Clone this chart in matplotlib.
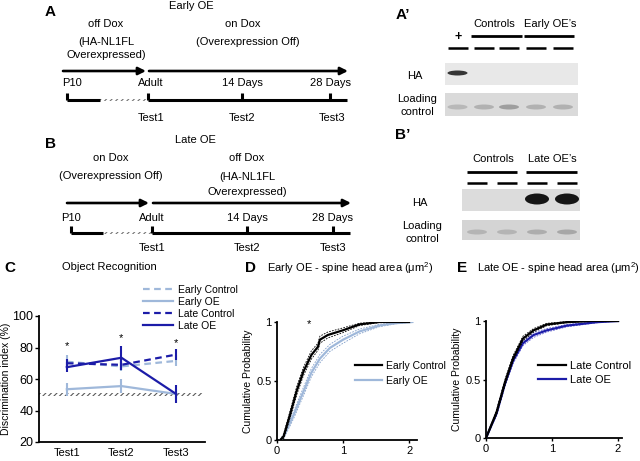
import matplotlib
matplotlib.use('Agg')
import matplotlib.pyplot as plt
from matplotlib.patches import Rectangle, Ellipse
from matplotlib.lines import Line2D
import numpy as np

plt.rcParams['font.family'] = ['Liberation Sans', 'DejaVu Sans']
plt.rcParams['mathtext.fontset'] = 'custom'
plt.rcParams['mathtext.rm'] = 'Liberation Sans'
plt.rcParams['hatch.linewidth'] = 0.8

# ---------------- data ----------------
tests = ['Test1', 'Test2', 'Test3']
early_ctrl = [71, 68, 71.5]
early_ctrl_err = [4, 3, 3.5]
early_oe = [53.5, 55.5, 50.5]
early_oe_err = [4, 4.5, 3]
late_ctrl = [70, 69, 75.5]
late_ctrl_err = [3, 3, 3.5]
late_oe = [67.5, 73.5, 50.5]
late_oe_err = [3, 7.5, 6]
star_y = [81, 86, 83]
chance = 50

early_ctrl_x = [0.05, 0.1, 0.2, 0.3, 0.4, 0.52, 0.62, 0.65, 0.77, 1.0, 1.25, 1.55, 2.0]
early_ctrl_p = [0.0, 0.03, 0.22, 0.42, 0.58, 0.72, 0.79, 0.85, 0.89, 0.93, 0.98, 1.0, 1.0]
early_ctrl_sem = [0.0, 0.02, 0.03, 0.035, 0.035, 0.035, 0.03, 0.03, 0.025, 0.02, 0.01, 0.005, 0.0]
early_oe_x = [0.05, 0.1, 0.25, 0.4, 0.52, 0.65, 0.8, 1.0, 1.25, 1.55, 1.8, 2.05]
early_oe_p = [0.0, 0.03, 0.21, 0.41, 0.57, 0.69, 0.78, 0.85, 0.92, 0.97, 0.99, 1.0]
early_oe_sem = [0.0, 0.02, 0.03, 0.035, 0.035, 0.035, 0.03, 0.03, 0.02, 0.01, 0.005, 0.0]

late_ctrl_x = [0.0, 0.16, 0.29, 0.41, 0.56, 0.72, 0.92, 1.22, 1.6, 2.0]
late_ctrl_p = [0.0, 0.22, 0.48, 0.68, 0.85, 0.92, 0.97, 0.99, 1.0, 1.0]
late_ctrl_sem = [0.0, 0.02, 0.025, 0.025, 0.02, 0.015, 0.01, 0.005, 0.0, 0.0]
late_oe_x = [0.0, 0.16, 0.29, 0.41, 0.56, 0.72, 0.92, 1.22, 1.68, 2.0]
late_oe_p = [0.0, 0.21, 0.47, 0.66, 0.81, 0.88, 0.92, 0.96, 0.99, 1.0]
late_oe_sem = [0.0, 0.02, 0.025, 0.025, 0.02, 0.02, 0.015, 0.01, 0.005, 0.0]

blotA_lanes = ['+', 'C1', 'C2', 'OE1', 'OE2']
blotA_ha = [0.85, 0.0, 0.0, 0.0, 0.0]
blotA_load = [0.25, 0.3, 0.45, 0.3, 0.3]
blotB_lanes = ['C1', 'C2', 'OE1', 'OE2']
blotB_ha = [0.0, 0.0, 1.0, 1.0]
blotB_load = [0.25, 0.25, 0.3, 0.35]

LIGHT = '#9fb8da'
DARK = '#1c1ca8'

W, H = 640, 461
fig = plt.figure(figsize=(6.4, 4.61), dpi=100)
ov = fig.add_axes([0, 0, 1, 1])
ov.set_xlim(0, W)
ov.set_ylim(H, 0)
ov.axis('off')


def rect(l, t, r, b):
    return [l / W, 1 - b / H, (r - l) / W, (b - t) / H]


FS = 8


def txt(x, y, s, ha='center', **kw):
    ov.text(x, y, s, ha=ha, va='center', fontsize=kw.pop('fs', FS), **kw)


def arrow(x0, x1, y):
    ov.annotate('', xy=(x1, y), xytext=(x0, y),
                arrowprops=dict(arrowstyle='-|>', lw=1.9, color='black',
                                mutation_scale=11, shrinkA=0, shrinkB=0))


def timeline(y, x0, h0, h1, x1, ticks):
    ov.plot([x0, h0], [y, y], color='black', lw=2.2, solid_capstyle='butt')
    ov.plot([h1, x1], [y, y], color='black', lw=2.2, solid_capstyle='butt')
    ov.add_patch(Rectangle((h0, y - 1.2), h1 - h0, 2.4, facecolor='white',
                           edgecolor='0.45', hatch='//////', lw=0))
    for t in ticks:
        ov.plot([t, t], [y, y - 7], color='black', lw=2.2, solid_capstyle='butt')


# ---------------- Panel A ----------------
txt(50, 12, 'A', fs=11, weight='bold')
txt(191, 6, 'Early OE')
txt(106, 24, 'off Dox')
txt(106, 42, '(HA-NL1FL')
txt(106, 55, 'Overexpressed)')
txt(243, 24, 'on Dox')
txt(248, 42, '(Overexpression Off)')
arrow(63, 146, 71)
arrow(149, 348, 71)
txt(72, 83, 'P10')
txt(151, 83, 'Adult')
txt(242, 83, '14 Days')
txt(331, 83, '28 Days')
timeline(100, 67, 100, 148, 347, [67, 148, 242, 330])
txt(151, 118, 'Test1')
txt(242, 118, 'Test2')
txt(332, 118, 'Test3')

# ---------------- Panel B ----------------
txt(50, 144, 'B', fs=11, weight='bold')
txt(195, 140, 'Late OE')
txt(111, 158, 'on Dox')
txt(111, 176, '(Overexpression Off)')
txt(247, 158, 'off Dox')
txt(247, 177, '(HA-NL1FL')
txt(247, 192, 'Overexpressed)')
arrow(67, 149, 203)
arrow(153, 351, 203)
txt(71, 218, 'P10')
txt(152, 218, 'Adult')
txt(247, 218, '14 Days')
txt(332, 218, '28 Days')
timeline(233, 71, 103, 152, 350, [71, 152, 247, 333])
txt(152, 248, 'Test1')
txt(247, 248, 'Test2')
txt(333, 248, 'Test3')


# ---------------- Blots ----------------
def blot(box, lanes_x, band_y, ha, load, ha_box, load_box, ha_h, ha_w):
    x0, x1 = box
    ov.add_patch(Rectangle((x0, ha_box[0]), x1 - x0, ha_box[1] - ha_box[0],
                           facecolor=ha_box[2], lw=0))
    ov.add_patch(Rectangle((x0, load_box[0]), x1 - x0, load_box[1] - load_box[0],
                           facecolor=load_box[2], lw=0))
    for lx, a in zip(lanes_x, ha):
        if a > 0:
            ov.add_patch(Ellipse((lx, band_y[0]), ha_w, ha_h, facecolor='#151515',
                                 alpha=a, lw=0))
    for lx, a in zip(lanes_x, load):
        ov.add_patch(Ellipse((lx, band_y[1]), 20, 5, facecolor='#555555',
                             alpha=a, lw=0))


# A'
txt(403, 15, "A’", fs=11, weight='bold')
txt(494, 24, 'Controls')
txt(550, 24, 'Early OE’s')
ov.plot([471, 522], [36, 36], color='black', lw=2.0, solid_capstyle='butt')
ov.plot([524, 574], [36, 36], color='black', lw=2.0, solid_capstyle='butt')
txt(458, 37, '+', weight='bold', fs=9)
laneA = [457.5, 484, 509, 536, 563]
for lx in laneA:
    ov.plot([lx - 10, lx + 10], [48, 48], color='black', lw=1.8, solid_capstyle='butt')
blot((445, 578), laneA, (73, 107), blotA_ha, blotA_load,
     (63, 85, '#e8e8e8'), (93, 116, '#dadada'), 5, 20)
txt(415, 76, 'HA')
txt(417, 99, 'Loading')
txt(417, 112, 'control')

# B'
txt(403, 135, "B’", fs=11, weight='bold')
txt(493, 159, 'Controls')
txt(552, 159, 'Late OE’s')
ov.plot([467, 517], [172, 172], color='black', lw=2.0, solid_capstyle='butt')
ov.plot([526, 577], [172, 172], color='black', lw=2.0, solid_capstyle='butt')
laneB = [477, 507, 537, 567]
for lx in laneB:
    ov.plot([lx - 10, lx + 10], [183, 183], color='black', lw=1.8, solid_capstyle='butt')
blot((462, 580), laneB, (199, 232), blotB_ha, blotB_load,
     (189, 211, '#dcdcdc'), (220, 240, '#d4d4d4'), 11, 24)
txt(420, 203, 'HA')
txt(422, 226, 'Loading')
txt(422, 239, 'control')

# ---------------- Panel C ----------------
txt(10, 268, 'C', fs=11, weight='bold')
txt(62, 267, 'Object Recognition', ha='left')
axC = fig.add_axes(rect(39, 316, 205, 442))
xpos = np.arange(1, len(tests) + 1)
axC.set_xlim(0.49, 3.53)
axC.set_ylim(20, 100)
axC.add_patch(Rectangle((0.49, chance - 0.9), 3.0, 1.8, facecolor='white',
                        edgecolor='0.35', hatch='//////', lw=0, zorder=1))
dash = (0, (3, 2))
axC.errorbar(xpos, early_ctrl, yerr=early_ctrl_err, color=LIGHT, lw=1.6,
             ls=dash, elinewidth=1.5, capsize=0, zorder=3, label='Early Control')
axC.errorbar(xpos, early_oe, yerr=early_oe_err, color=LIGHT, lw=1.6,
             elinewidth=1.5, capsize=0, zorder=3, label='Early OE')
axC.errorbar(xpos, late_ctrl, yerr=late_ctrl_err, color=DARK, lw=1.6,
             ls=dash, elinewidth=1.5, capsize=0, zorder=4, label='Late Control')
axC.errorbar(xpos, late_oe, yerr=late_oe_err, color=DARK, lw=1.6,
             elinewidth=1.5, capsize=0, zorder=4, label='Late OE')
for xp, sy in zip(xpos, star_y):
    axC.text(xp, sy, '*', ha='center', va='center', fontsize=8)
axC.set_xticks(xpos)
axC.set_xticklabels(tests, fontsize=FS)
axC.set_yticks([20, 40, 60, 80, 100])
axC.tick_params(axis='y', labelsize=9, length=3, width=1, pad=1)
axC.tick_params(axis='x', length=0, pad=4)
for s in ['top', 'right']:
    axC.spines[s].set_visible(False)
for s in ['left', 'bottom']:
    axC.spines[s].set_linewidth(1.3)
axC.set_ylabel('Discrimination index (%)', fontsize=7.5)
axC.yaxis.set_label_coords(-0.17, 0.5)
handles = [Line2D([], [], color=LIGHT, lw=1.6, ls=dash),
           Line2D([], [], color=LIGHT, lw=1.6),
           Line2D([], [], color=DARK, lw=1.6, ls=dash),
           Line2D([], [], color=DARK, lw=1.6)]
axC.legend(handles, ['Early Control', 'Early OE', 'Late Control', 'Late OE'],
           loc='upper left', bbox_to_anchor=(143 / W, 1 - 285 / H),
           bbox_transform=fig.transFigure, frameon=False, fontsize=7.5,
           handlelength=2.9, handletextpad=0.5, labelspacing=0.18,
           borderpad=0, borderaxespad=0)


def cdf_axes(r, xmax):
    ax = fig.add_axes(r)
    ax.set_xlim(0, xmax)
    ax.set_ylim(0, 1)
    ax.set_xticks([0, 1, 2])
    ax.set_yticks([0, 0.5, 1])
    ax.set_yticklabels(['0', '0.5', '1'])
    ax.tick_params(labelsize=8, length=2, width=1, pad=2)
    for s in ['top', 'right']:
        ax.spines[s].set_visible(False)
    for s in ['left', 'bottom']:
        ax.spines[s].set_linewidth(1.3)
    ax.set_ylabel('Cumulative Probability', fontsize=7.5)
    return ax


def cdf_line(ax, x, p, sem, color, envcolor, label, z):
    x = np.array(x); p = np.array(p); sem = np.array(sem)
    ax.plot(x, np.clip(p + sem, 0, 1), color=envcolor, lw=0.6, ls=(0, (2, 1.5)), zorder=z)
    ax.plot(x, np.clip(p - sem, 0, 1), color=envcolor, lw=0.6, ls=(0, (2, 1.5)), zorder=z)
    ax.plot(x, p, color=color, lw=1.6, zorder=z + 1, label=label)


# ---------------- Panel D ----------------
txt(250, 268, 'D', fs=11, weight='bold')
txt(267, 268, 'Early OE - spine head area (μm$^2$)', ha='left')
axD = cdf_axes(rect(277, 322, 417, 440), 2.12)
cdf_line(axD, early_oe_x, early_oe_p, early_oe_sem, LIGHT, '#7f9cc8', 'Early OE', 2)
cdf_line(axD, early_ctrl_x, early_ctrl_p, early_ctrl_sem, 'black', 'black', 'Early Control', 4)
axD.text(0.48, 0.98, '*', ha='center', va='center', fontsize=8)
axD.yaxis.set_label_coords(-0.17, 0.5)
hD = [Line2D([], [], color='black', lw=1.6), Line2D([], [], color=LIGHT, lw=1.6)]
axD.legend(hD, ['Early Control', 'Early OE'], loc='upper left',
           bbox_to_anchor=(355 / W, 1 - 361 / H), bbox_transform=fig.transFigure,
           frameon=False, fontsize=7.5, handlelength=2.6, handletextpad=0.35,
           labelspacing=0.45, borderpad=0, borderaxespad=0)

# ---------------- Panel E ----------------
txt(462, 268, 'E', fs=11, weight='bold')
txt(477, 268, 'Late OE - spine head area (μm$^2$)', ha='left')
axE = cdf_axes(rect(486, 321, 622, 438), 2.06)
cdf_line(axE, late_oe_x, late_oe_p, late_oe_sem, DARK, '#5a5ad0', 'Late OE', 2)
cdf_line(axE, late_ctrl_x, late_ctrl_p, late_ctrl_sem, 'black', 'black', 'Late Control', 4)
axE.yaxis.set_label_coords(-0.175, 0.5)
hE = [Line2D([], [], color='black', lw=1.6), Line2D([], [], color=DARK, lw=1.6)]
axE.legend(hE, ['Late Control', 'Late OE'], loc='upper left',
           bbox_to_anchor=(538 / W, 1 - 361 / H), bbox_transform=fig.transFigure,
           frameon=False, fontsize=8, handlelength=2.5, handletextpad=0.4,
           labelspacing=0.35, borderpad=0, borderaxespad=0)

fig.savefig('out.png', dpi=100)
